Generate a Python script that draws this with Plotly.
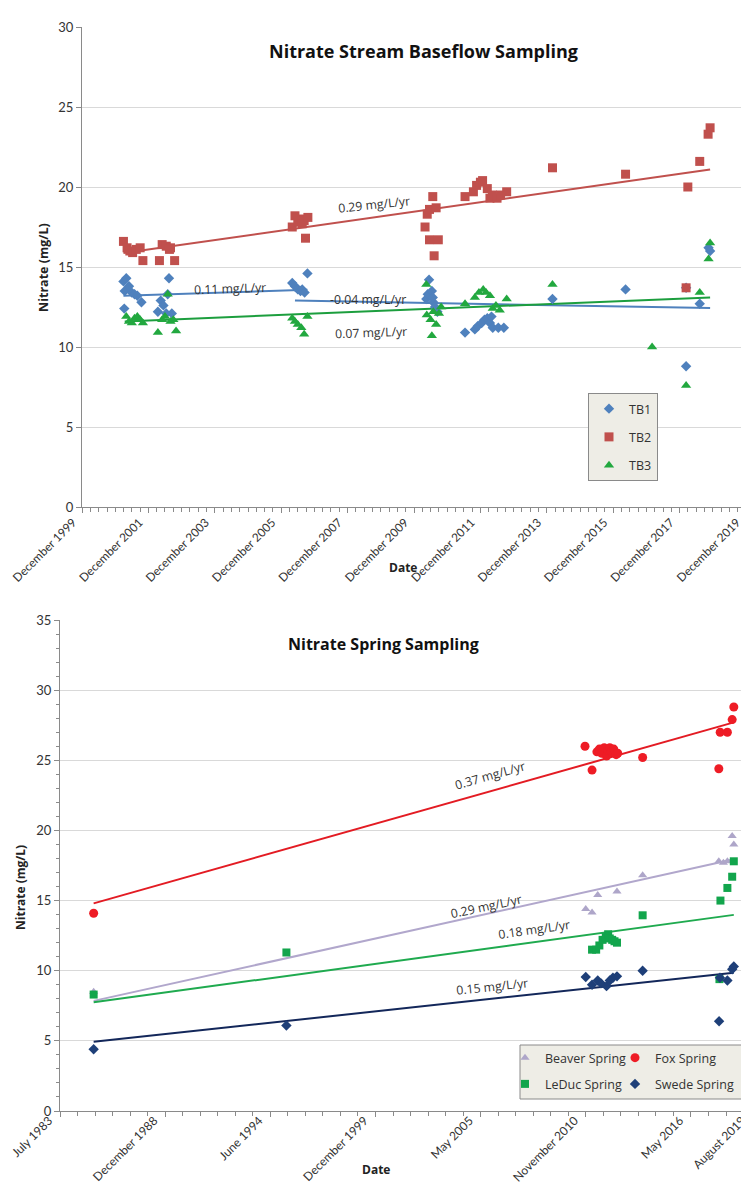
import plotly.graph_objects as go

# ---------------- Top chart: Nitrate Stream Baseflow Sampling ----------------
tb1_dates = ["2001-03-01", "2001-04-01", "2001-03-15", "2001-05-01", "2001-06-01", "2001-07-01", "2001-08-01", "2001-09-15", "2001-03-10",
             "2002-03-15", "2002-04-15", "2002-05-15", "2002-06-15", "2002-07-15", "2002-08-15", "2002-07-01",
             "2006-04-01", "2006-05-01", "2006-06-01", "2006-07-01", "2006-07-20", "2006-08-15", "2006-09-15",
             "2010-04-15", "2010-05-15", "2010-05-01", "2010-06-15", "2010-07-01", "2010-07-20", "2010-08-15", "2010-06-25",
             "2011-06-15", "2011-10-01", "2011-11-01", "2011-12-15", "2012-01-15", "2012-02-15", "2012-03-15", "2012-04-15",
             "2012-06-15", "2012-08-15", "2012-04-01",
             "2014-02-01", "2016-04-15", "2018-02-10", "2018-02-10", "2018-07-10", "2018-10-15", "2018-11-01"]
tb1_vals = [14.1, 14.3, 13.5, 13.8, 13.4, 13.3, 13.2, 12.8, 12.4,
            12.2, 12.9, 12.6, 12.1, 14.3, 12.1, 13.3,
            14.0, 13.8, 13.6, 13.5, 13.6, 13.4, 14.6,
            13.0, 14.2, 13.3, 13.5, 12.8, 12.5, 12.2, 13.1,
            10.9, 11.1, 11.3, 11.5, 11.7, 11.8, 11.5, 11.2,
            11.2, 11.2, 11.9,
            13.0, 13.6, 13.7, 8.8, 12.7, 16.2, 16.0]

tb2_dates = ["2001-03-01", "2001-04-10", "2001-05-10", "2001-06-10", "2001-07-20", "2001-09-01", "2001-10-01",
             "2002-04-01", "2002-05-01", "2002-06-15", "2002-08-01", "2002-07-20", "2002-09-15",
             "2006-04-01", "2006-05-01", "2006-06-01", "2006-06-20", "2006-07-20", "2006-08-10", "2006-09-20", "2006-08-25",
             "2010-04-01", "2010-04-25", "2010-05-20", "2010-06-25", "2010-08-01", "2010-05-20", "2010-08-25", "2010-07-10",
             "2011-06-15", "2011-09-15", "2011-10-20", "2011-12-01", "2011-12-25", "2012-02-15", "2012-03-15", "2012-04-10",
             "2012-06-01", "2012-07-10", "2012-09-15",
             "2014-02-01", "2016-04-15", "2018-02-10", "2018-03-01", "2018-07-10", "2018-10-10", "2018-11-01"]
tb2_vals = [16.6, 16.2, 16.0, 15.9, 16.1, 16.2, 15.4,
            15.4, 16.4, 16.3, 16.2, 16.1, 15.4,
            17.5, 18.2, 17.8, 18.0, 17.7, 17.9, 18.1, 16.8,
            17.5, 18.3, 18.6, 19.4, 18.7, 16.7, 16.7, 15.7,
            19.4, 19.7, 20.1, 20.3, 20.4, 19.9, 19.3, 19.5,
            19.3, 19.5, 19.7,
            21.2, 20.8, 13.7, 20.0, 21.6, 23.3, 23.7]

tb3_dates = ["2001-04-01", "2001-05-01", "2001-06-01", "2001-07-01", "2001-08-01", "2001-09-01", "2001-10-01",
             "2002-03-15", "2002-05-01", "2002-06-01", "2002-07-01", "2002-08-01", "2002-09-01", "2002-10-01",
             "2006-04-01", "2006-05-01", "2006-06-01", "2006-07-10", "2006-08-10", "2006-09-15",
             "2010-04-15", "2010-04-20", "2010-06-01", "2010-07-01", "2010-08-01", "2010-06-15", "2010-09-01", "2010-09-25",
             "2011-06-15", "2011-10-01", "2011-11-15", "2012-01-01", "2012-02-01", "2012-03-15", "2012-04-15", "2012-05-20",
             "2012-07-01", "2012-09-15",
             "2014-02-01", "2017-02-01", "2018-02-10", "2018-07-10", "2018-10-15", "2018-11-01"]
tb3_vals = [11.9, 11.6, 11.5, 11.8, 11.9, 11.7, 11.5,
            10.9, 11.7, 11.9, 13.3, 11.6, 11.7, 11.0,
            11.8, 11.6, 11.4, 11.2, 10.8, 11.9,
            13.9, 12.0, 11.7, 12.2, 11.4, 10.7, 12.1, 12.5,
            12.7, 13.1, 13.4, 13.6, 13.4, 13.2, 12.4, 12.6,
            12.3, 13.0,
            13.9, 10.0, 7.6, 13.4, 15.5, 16.5]

# trend lines (end points as drawn)
tb1_trend_a_dates = ["2001-03-01", "2006-09-15"]
tb1_trend_a_vals = [13.2, 13.58]
tb1_trend_b_dates = ["2006-05-01", "2018-11-01"]
tb1_trend_b_vals = [12.9, 12.44]
tb2_trend_dates = ["2001-03-01", "2018-11-01"]
tb2_trend_vals = [15.87, 21.1]
tb3_trend_dates = ["2001-03-15", "2018-11-01"]
tb3_trend_vals = [11.6, 13.1]

top_tick_dates = ["1999-12-01", "2001-12-01", "2003-12-01", "2005-12-01", "2007-12-01", "2009-12-01",
                  "2011-12-01", "2013-12-01", "2015-12-01", "2017-12-01", "2019-12-01"]
top_tick_labels = ["December 1999", "December 2001", "December 2003", "December 2005", "December 2007",
                   "December 2009", "December 2011", "December 2013", "December 2015", "December 2017",
                   "December 2019"]

# ---------------- Bottom chart: Nitrate Spring Sampling ----------------
beaver_dates = ["1985-04-01", "2010-11-15", "2011-03-15", "2011-07-01", "2012-07-01", "2013-11-01",
                "2017-10-20", "2018-01-15", "2018-04-01", "2018-07-01", "2018-08-01"]
beaver_vals = [8.5, 14.4, 14.15, 15.4, 15.65, 16.8, 17.8, 17.7, 17.8, 19.6, 19.0]

fox_dates = ["1985-04-01", "2010-11-01", "2011-03-15", "2011-06-15", "2011-08-01", "2011-09-15", "2011-11-01",
             "2011-12-15", "2012-01-15", "2012-02-15", "2012-03-15", "2012-05-01", "2012-06-15", "2012-07-15",
             "2013-11-01", "2017-10-20", "2017-11-15", "2018-04-01", "2018-07-01", "2018-08-01"]
fox_vals = [14.1, 26.0, 24.3, 25.6, 25.8, 25.5, 25.9, 25.3, 25.7, 25.9, 25.6, 25.8, 25.4, 25.5,
            25.2, 24.4, 27.0, 27.0, 27.9, 28.8]

leduc_dates = ["1985-04-01", "1995-04-15", "2011-03-15", "2011-06-01", "2011-08-01", "2011-10-01", "2011-12-01",
               "2012-01-15", "2012-02-15", "2012-04-01", "2012-05-15", "2012-07-01", "2013-11-01",
               "2017-11-01", "2017-11-20", "2018-04-01", "2018-07-01", "2018-08-01"]
leduc_vals = [8.3, 11.3, 11.5, 11.5, 11.8, 12.2, 12.4, 12.6, 12.3, 12.2, 12.1, 12.0, 13.95,
              9.4, 15.0, 15.9, 16.7, 17.8]

swede_dates = ["1985-04-01", "1995-04-15", "2010-11-15", "2011-03-15", "2011-07-01", "2011-09-01", "2011-12-15",
               "2012-02-15", "2012-04-15", "2012-07-01", "2013-11-01", "2017-10-25", "2017-11-10",
               "2018-04-01", "2018-07-01", "2018-08-01"]
swede_vals = [4.4, 6.1, 9.55, 9.0, 9.3, 9.1, 8.9, 9.3, 9.5, 9.6, 10.0, 6.4, 9.5, 9.3, 10.1, 10.3]

spring_trend_dates = ["1985-04-01", "2018-08-01"]
fox_trend_vals = [14.8, 27.7]
beaver_trend_vals = [7.85, 17.95]
leduc_trend_vals = [7.75, 13.98]
swede_trend_vals = [4.93, 9.86]

bottom_tick_dates = ["1983-07-01", "1988-12-21", "1994-06-12", "1999-12-03", "2005-05-26",
                     "2010-11-16", "2016-05-08", "2019-08-01"]
bottom_tick_labels = ["July 1983", "December 1988", "June 1994", "December 1999", "May 2005",
                      "November 2010", "May 2016", "August 2019"]

# ---------------- Figure ----------------
W, H = 749, 1184
FONT = "Open Sans"
TICKFONT = "Lato"
def px(x):
    return x / W
def py(y):
    return 1 - y / H

fig = go.Figure()

# Top trend lines
for d, v, c in [(tb1_trend_a_dates, tb1_trend_a_vals, "#4f81bd"),
                (tb1_trend_b_dates, tb1_trend_b_vals, "#4f81bd"),
                (tb2_trend_dates, tb2_trend_vals, "#c0504d"),
                (tb3_trend_dates, tb3_trend_vals, "#1c9e3e")]:
    fig.add_trace(go.Scatter(x=d, y=v, mode="lines", line=dict(color=c, width=2),
                             showlegend=False, hoverinfo="skip", xaxis="x", yaxis="y"))

fig.add_trace(go.Scatter(x=tb1_dates, y=tb1_vals, mode="markers", name="TB1",
                         marker=dict(symbol="diamond", size=8, color="#4f81bd"),
                         legend="legend", legendgroup="tb1", xaxis="x", yaxis="y"))
fig.add_trace(go.Scatter(x=tb2_dates, y=tb2_vals, mode="markers", name="TB2",
                         marker=dict(symbol="square", size=9, color="#c0504d"),
                         legend="legend", legendgroup="tb2", xaxis="x", yaxis="y"))
fig.add_trace(go.Scatter(x=tb3_dates, y=tb3_vals, mode="markers", name="TB3",
                         marker=dict(symbol="triangle-up", size=9, color="#22a83f"),
                         legend="legend", legendgroup="tb3", xaxis="x", yaxis="y"))

# Bottom trend lines
for v, c in [(fox_trend_vals, "#e31b23"), (beaver_trend_vals, "#b1a7cc"),
             (leduc_trend_vals, "#1faa4f"), (swede_trend_vals, "#13275a")]:
    fig.add_trace(go.Scatter(x=spring_trend_dates, y=v, mode="lines", line=dict(color=c, width=2),
                             showlegend=False, hoverinfo="skip", xaxis="x2", yaxis="y2"))

fig.add_trace(go.Scatter(x=beaver_dates, y=beaver_vals, mode="markers", name="Beaver Spring",
                         marker=dict(symbol="triangle-up", size=8, color="#aea6c9"),
                         legend="legend2", legendgroup="bv", xaxis="x2", yaxis="y2"))
fig.add_trace(go.Scatter(x=fox_dates, y=fox_vals, mode="markers", name="Fox Spring",
                         marker=dict(symbol="circle", size=9, color="#ee1c25"),
                         legend="legend3", legendgroup="fx", xaxis="x2", yaxis="y2"))
fig.add_trace(go.Scatter(x=leduc_dates, y=leduc_vals, mode="markers", name="LeDuc Spring",
                         marker=dict(symbol="square", size=8, color="#12a54c"),
                         legend="legend2", legendgroup="ld", xaxis="x2", yaxis="y2"))
fig.add_trace(go.Scatter(x=swede_dates, y=swede_vals, mode="markers", name="Swede Spring",
                         marker=dict(symbol="diamond", size=8, color="#1e3f78"),
                         legend="legend3", legendgroup="sw", xaxis="x2", yaxis="y2"))

axis_common = dict(showline=True, linecolor="#8a8a8a", linewidth=1, ticks="outside",
                   tickcolor="#8a8a8a", ticklen=5, zeroline=False, automargin=False)
ytick_font = dict(family=TICKFONT, size=13, color="#333333")

fig.update_layout(
    width=W, height=H, margin=dict(l=0, r=0, t=0, b=0, autoexpand=False),
    paper_bgcolor="white", plot_bgcolor="white",
    font=dict(family=FONT, size=12, color="#333333"),
    xaxis=dict(domain=[px(74), px(738)], anchor="y", type="date",
               range=["1999-12-01", "2019-12-01"], tickvals=top_tick_dates, ticktext=top_tick_labels,
               tickangle=-45, showgrid=False, ticklabeloverflow="allow",
               tickfont=dict(family=TICKFONT, size=11.8, color="#333333"),
               ticklabelshift=-9, ticklabelstandoff=-2,
               minor=dict(dtick="M3", tick0="1999-12-01", ticks="outside", ticklen=4, tickcolor="#8a8a8a"),
               **axis_common),
    yaxis=dict(domain=[py(499), py(19)], anchor="x", range=[0, 30], dtick=5, tickfont=ytick_font,
               showgrid=True, gridcolor="#d9d9d9", gridwidth=1, **axis_common),
    xaxis2=dict(domain=[px(52), px(745)], anchor="y2", type="date",
                range=["1983-07-01", "2019-08-01"], tickvals=bottom_tick_dates, ticktext=bottom_tick_labels,
                tickangle=-45, showgrid=False, ticklabeloverflow="allow",
                tickfont=dict(family=TICKFONT, size=12, color="#333333"),
                ticklabelshift=-11, ticklabelstandoff=-8,
                minor=dict(tick0="1983-07-01", dtick=2000 / 6 * 86400000, ticks="outside", ticklen=4,
                           tickcolor="#8a8a8a"),
                **axis_common),
    yaxis2=dict(domain=[py(1103), py(612)], anchor="x2", range=[0, 35], dtick=5, tickfont=ytick_font,
                showgrid=True, gridcolor="#d9d9d9", gridwidth=1,
                minor=dict(dtick=1, ticks="outside", ticklen=3, tickcolor="#8a8a8a"),
                **axis_common),
    legend=dict(x=px(580), y=py(385), xanchor="left", yanchor="top", orientation="v",
                bgcolor="#eeede6", bordercolor="#8a8a8a", borderwidth=1,
                font=dict(family=FONT, size=12.5, color="#333333"),
                tracegroupgap=9, itemwidth=30),
    legend2=dict(x=px(497), y=py(1035), xanchor="left", yanchor="top", orientation="v",
                 bgcolor="rgba(0,0,0,0)", borderwidth=0,
                 font=dict(family=FONT, size=12.5, color="#333333"),
                 tracegroupgap=7, itemwidth=30),
    legend3=dict(x=px(607), y=py(1035), xanchor="left", yanchor="top", orientation="v",
                 bgcolor="rgba(0,0,0,0)", borderwidth=0,
                 font=dict(family=FONT, size=12.5, color="#333333"),
                 tracegroupgap=7, itemwidth=30),
    shapes=[dict(type="rect", xref="paper", yref="paper", x0=px(512), x1=px(736), y0=py(1037), y1=py(1091),
                 fillcolor="#eeede6", line=dict(color="#8a8a8a", width=1), layer="below")],
    showlegend=True,
)

def note(text, x, y, xref="paper", yref="paper", size=12.3, angle=0, color="#333333"):
    return dict(text=text, x=x, y=y, xref=xref, yref=yref, textangle=angle, showarrow=False,
                xanchor="center", yanchor="middle", font=dict(family=FONT, size=size, color=color))

annotations = [
    # titles
    note("<b>Nitrate Stream Baseflow Sampling</b>", px(415), py(43), size=18, color="#111111"),
    note("<b>Nitrate Spring Sampling</b>", px(375), py(636), size=16, color="#111111"),
    # axis titles
    note("<b>Nitrate (mg/L)</b>", px(35), py(260), size=12.5, angle=-90, color="#222222"),
    note("<b>Date</b>", px(395), py(559), size=12, color="#222222"),
    note("<b>Nitrate (mg/L)</b>", px(12), py(880), size=12, angle=-90, color="#222222"),
    note("<b>Date</b>", px(368), py(1161), size=12, color="#222222"),
    # top trend labels
    note("0.29 mg/L/yr", "2008-09-15", 18.9, "x", "y", angle=-6),
    note("0.11 mg/L/yr", "2004-05-15", 13.65, "x", "y", angle=-2),
    note("-0.04 mg/L/yr", "2008-07-15", 12.95, "x", "y"),
    note("0.07 mg/L/yr", "2008-08-15", 10.9, "x", "y", angle=-2),
    # bottom trend labels
    note("0.37 mg/L/yr", "2005-11-15", 23.9, "x2", "y2", angle=-16),
    note("0.29 mg/L/yr", "2005-09-01", 14.6, "x2", "y2", angle=-12),
    note("0.18 mg/L/yr", "2008-03-01", 12.95, "x2", "y2", angle=-8),
    note("0.15 mg/L/yr", "2006-01-01", 8.9, "x2", "y2", angle=-6),
]
fig.update_layout(annotations=annotations)

fig.write_html("out.html")
